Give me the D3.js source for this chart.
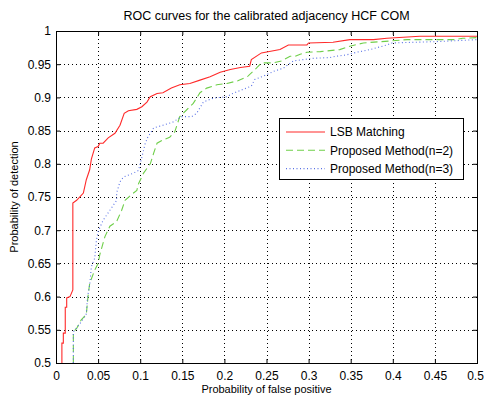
<!DOCTYPE html>
<html>
<head>
<meta charset="utf-8">
<script src="https://cdn.jsdelivr.net/npm/d3@7/dist/d3.min.js"></script>
<style>
  body { margin: 0; background: #fff; }
  text { font-family: "Liberation Sans", Arial, sans-serif; fill: #000; }
</style>
</head>
<body>
<div id="chart"></div>
<script>
const xTicks = [0, 0.05, 0.1, 0.15, 0.2, 0.25, 0.3, 0.35, 0.4, 0.45, 0.5];
const yTicks = [0.5, 0.55, 0.6, 0.65, 0.7, 0.75, 0.8, 0.85, 0.9, 0.95, 1];

const seriesNames = ['LSB Matching', 'Proposed Method(n=2)', 'Proposed Method(n=3)'];

// [false positive, detection]
const lsbMatching = [
  [0.007, 0.5], [0.007, 0.53], [0.0087, 0.53], [0.0087, 0.545], [0.011, 0.545],
  [0.011, 0.584], [0.0127, 0.584], [0.0127, 0.598], [0.0166, 0.6], [0.02, 0.61],
  [0.02, 0.741], [0.0245, 0.745], [0.0325, 0.756], [0.036, 0.776], [0.04, 0.791],
  [0.042, 0.807], [0.046, 0.824], [0.05, 0.826], [0.052, 0.831], [0.056, 0.831],
  [0.062, 0.839], [0.07, 0.846], [0.076, 0.858], [0.081, 0.876], [0.086, 0.88],
  [0.096, 0.882], [0.102, 0.886], [0.108, 0.893], [0.112, 0.901], [0.12, 0.906],
  [0.127, 0.907], [0.137, 0.914], [0.147, 0.919], [0.159, 0.921], [0.171, 0.926],
  [0.183, 0.931], [0.195, 0.938], [0.207, 0.942], [0.219, 0.945], [0.23, 0.947],
  [0.232, 0.957], [0.244, 0.967], [0.266, 0.972], [0.276, 0.979], [0.298, 0.979],
  [0.30, 0.982], [0.329, 0.983], [0.349, 0.987], [0.377, 0.987], [0.393, 0.989],
  [0.432, 0.992], [0.5, 0.992]
];

const proposedN2 = [
  [0.0206, 0.5], [0.0206, 0.547], [0.0245, 0.552], [0.03, 0.565], [0.036, 0.573],
  [0.038, 0.60], [0.04, 0.62], [0.046, 0.64], [0.05, 0.65], [0.052, 0.663],
  [0.058, 0.69], [0.064, 0.706], [0.072, 0.713], [0.078, 0.73], [0.082, 0.745],
  [0.092, 0.756], [0.096, 0.76], [0.098, 0.77], [0.104, 0.786], [0.112, 0.80],
  [0.116, 0.816], [0.12, 0.831], [0.127, 0.836], [0.135, 0.84], [0.141, 0.848],
  [0.147, 0.871], [0.155, 0.881], [0.163, 0.891], [0.171, 0.907], [0.179, 0.914],
  [0.191, 0.919], [0.203, 0.921], [0.216, 0.925], [0.228, 0.932], [0.238, 0.944],
  [0.244, 0.952], [0.258, 0.952], [0.268, 0.955], [0.278, 0.962], [0.284, 0.962],
  [0.29, 0.965], [0.298, 0.968], [0.314, 0.969], [0.337, 0.972], [0.349, 0.977],
  [0.365, 0.982], [0.397, 0.985], [0.417, 0.987], [0.472, 0.987], [0.483, 0.989],
  [0.5, 0.99]
];

const proposedN3 = [
  [0.0206, 0.5], [0.0206, 0.547], [0.0245, 0.553], [0.03, 0.562], [0.036, 0.574],
  [0.0375, 0.60], [0.04, 0.617], [0.042, 0.645], [0.046, 0.658], [0.048, 0.685],
  [0.05, 0.698], [0.056, 0.715], [0.064, 0.73], [0.072, 0.745], [0.072, 0.756],
  [0.076, 0.773], [0.08, 0.78], [0.092, 0.786], [0.098, 0.79], [0.102, 0.81],
  [0.106, 0.831], [0.109, 0.84], [0.116, 0.854], [0.127, 0.858], [0.139, 0.863],
  [0.149, 0.871], [0.161, 0.871], [0.167, 0.876], [0.175, 0.893], [0.187, 0.899],
  [0.203, 0.901], [0.21, 0.906], [0.22, 0.911], [0.232, 0.917], [0.236, 0.927],
  [0.246, 0.932], [0.26, 0.94], [0.27, 0.944], [0.282, 0.955], [0.294, 0.957],
  [0.306, 0.959], [0.325, 0.96], [0.333, 0.962], [0.345, 0.964], [0.357, 0.968],
  [0.373, 0.972], [0.393, 0.979], [0.399, 0.982], [0.452, 0.984], [0.5, 0.987]
];

const width = 484;
const height = 398;
const margin = { top: 31, right: 7, bottom: 35, left: 56 };
const innerW = width - margin.left - margin.right;
const innerH = height - margin.top - margin.bottom;

const series = [
  { name: seriesNames[0], data: lsbMatching, color: '#ff2a2a', dash: null },
  { name: seriesNames[1], data: proposedN2, color: '#6fcf4a', dash: '7,4' },
  { name: seriesNames[2], data: proposedN3, color: '#5a72e6', dash: '1,2.5' }
];

const svg = d3.select('#chart')
  .append('svg')
    .attr('width', width)
    .attr('height', height);

const g = svg.append('g')
  .attr('transform', `translate(${margin.left}, ${margin.top})`);

const xScale = d3.scaleLinear().domain([0, 0.5]).range([0, innerW]);
const yScale = d3.scaleLinear().domain([0.5, 1]).range([innerH, 0]);

// grid
g.append('g')
  .selectAll('line')
  .data(xTicks.slice(1, -1))
  .join('line')
    .attr('x1', d => Math.round(xScale(d)) + 0.5)
    .attr('x2', d => Math.round(xScale(d)) + 0.5)
    .attr('y1', 0)
    .attr('y2', innerH)
    .attr('stroke', '#000')
    .attr('stroke-dasharray', '1,3');

g.append('g')
  .selectAll('line')
  .data(yTicks.slice(1, -1))
  .join('line')
    .attr('y1', d => Math.round(yScale(d)) + 0.5)
    .attr('y2', d => Math.round(yScale(d)) + 0.5)
    .attr('x1', 0)
    .attr('x2', innerW)
    .attr('stroke', '#000')
    .attr('stroke-dasharray', '1,3');

// axes, matlab style ticks pointing inward
const fmt = d => d3.format('~g')(d);

const xAxis = g.append('g')
  .attr('transform', `translate(0, ${innerH})`)
  .call(d3.axisBottom(xScale).tickValues(xTicks).tickFormat(fmt).tickSizeInner(-4).tickSizeOuter(0).tickPadding(8));

const xAxisTop = g.append('g')
  .call(d3.axisTop(xScale).tickValues(xTicks).tickFormat('').tickSizeInner(-4).tickSizeOuter(0));

const yAxis = g.append('g')
  .call(d3.axisLeft(yScale).tickValues(yTicks).tickFormat(fmt).tickSizeInner(-4).tickSizeOuter(0).tickPadding(5));

const yAxisRight = g.append('g')
  .attr('transform', `translate(${innerW}, 0)`)
  .call(d3.axisRight(yScale).tickValues(yTicks).tickFormat('').tickSizeInner(-4).tickSizeOuter(0));

[xAxis, xAxisTop, yAxis, yAxisRight].forEach(a => {
  a.selectAll('text').style('font-size', '12px').attr('font-family', null);
  a.select('.domain').attr('stroke', '#000');
});

// last x label sits against the right edge as in the original
xAxis.selectAll('.tick text').filter(d => d === 0.5).attr('dx', -2);

// curves
const line = d3.line()
  .x(d => xScale(d[0]))
  .y(d => yScale(d[1]));

g.append('g')
  .selectAll('path')
  .data(series)
  .join('path')
    .attr('d', d => line(d.data))
    .attr('fill', 'none')
    .attr('stroke', d => d.color)
    .attr('stroke-width', 1.1)
    .attr('stroke-dasharray', d => d.dash);

// box
g.append('rect')
  .attr('x', 0.5)
  .attr('y', 0.5)
  .attr('width', innerW)
  .attr('height', innerH)
  .attr('fill', 'none')
  .attr('stroke', '#000');

// legend
const legend = svg.append('g')
  .attr('transform', 'translate(279, 118)');

legend.append('rect')
  .attr('x', 0.5)
  .attr('y', 0.5)
  .attr('width', 184)
  .attr('height', 61)
  .attr('fill', '#fff')
  .attr('stroke', '#000');

const item = legend.selectAll('.item')
  .data(series)
  .join('g')
    .attr('class', 'item')
    .attr('transform', (d, i) => `translate(0, ${14 + i * 18.3})`);

item.append('line')
  .attr('x1', 7)
  .attr('x2', 46)
  .attr('stroke', d => d.color)
  .attr('stroke-width', 1.1)
  .attr('stroke-dasharray', d => d.dash);

item.append('text')
  .attr('x', 51)
  .attr('dy', '0.35em')
  .style('font-size', '12px')
  .text(d => d.name);

// labels
svg.append('text')
  .attr('x', margin.left + innerW / 2)
  .attr('y', 20)
  .attr('text-anchor', 'middle')
  .style('font-size', '12.5px')
  .text('ROC curves for the calibrated adjacency HCF COM');

svg.append('text')
  .attr('x', margin.left + innerW / 2)
  .attr('y', 393)
  .attr('text-anchor', 'middle')
  .style('font-size', '11px')
  .text('Probability of false positive');

svg.append('text')
  .attr('transform', `translate(18, ${margin.top + innerH / 2}) rotate(-90)`)
  .attr('text-anchor', 'middle')
  .style('font-size', '11px')
  .text('Probability of detection');
</script>
</body>
</html>
